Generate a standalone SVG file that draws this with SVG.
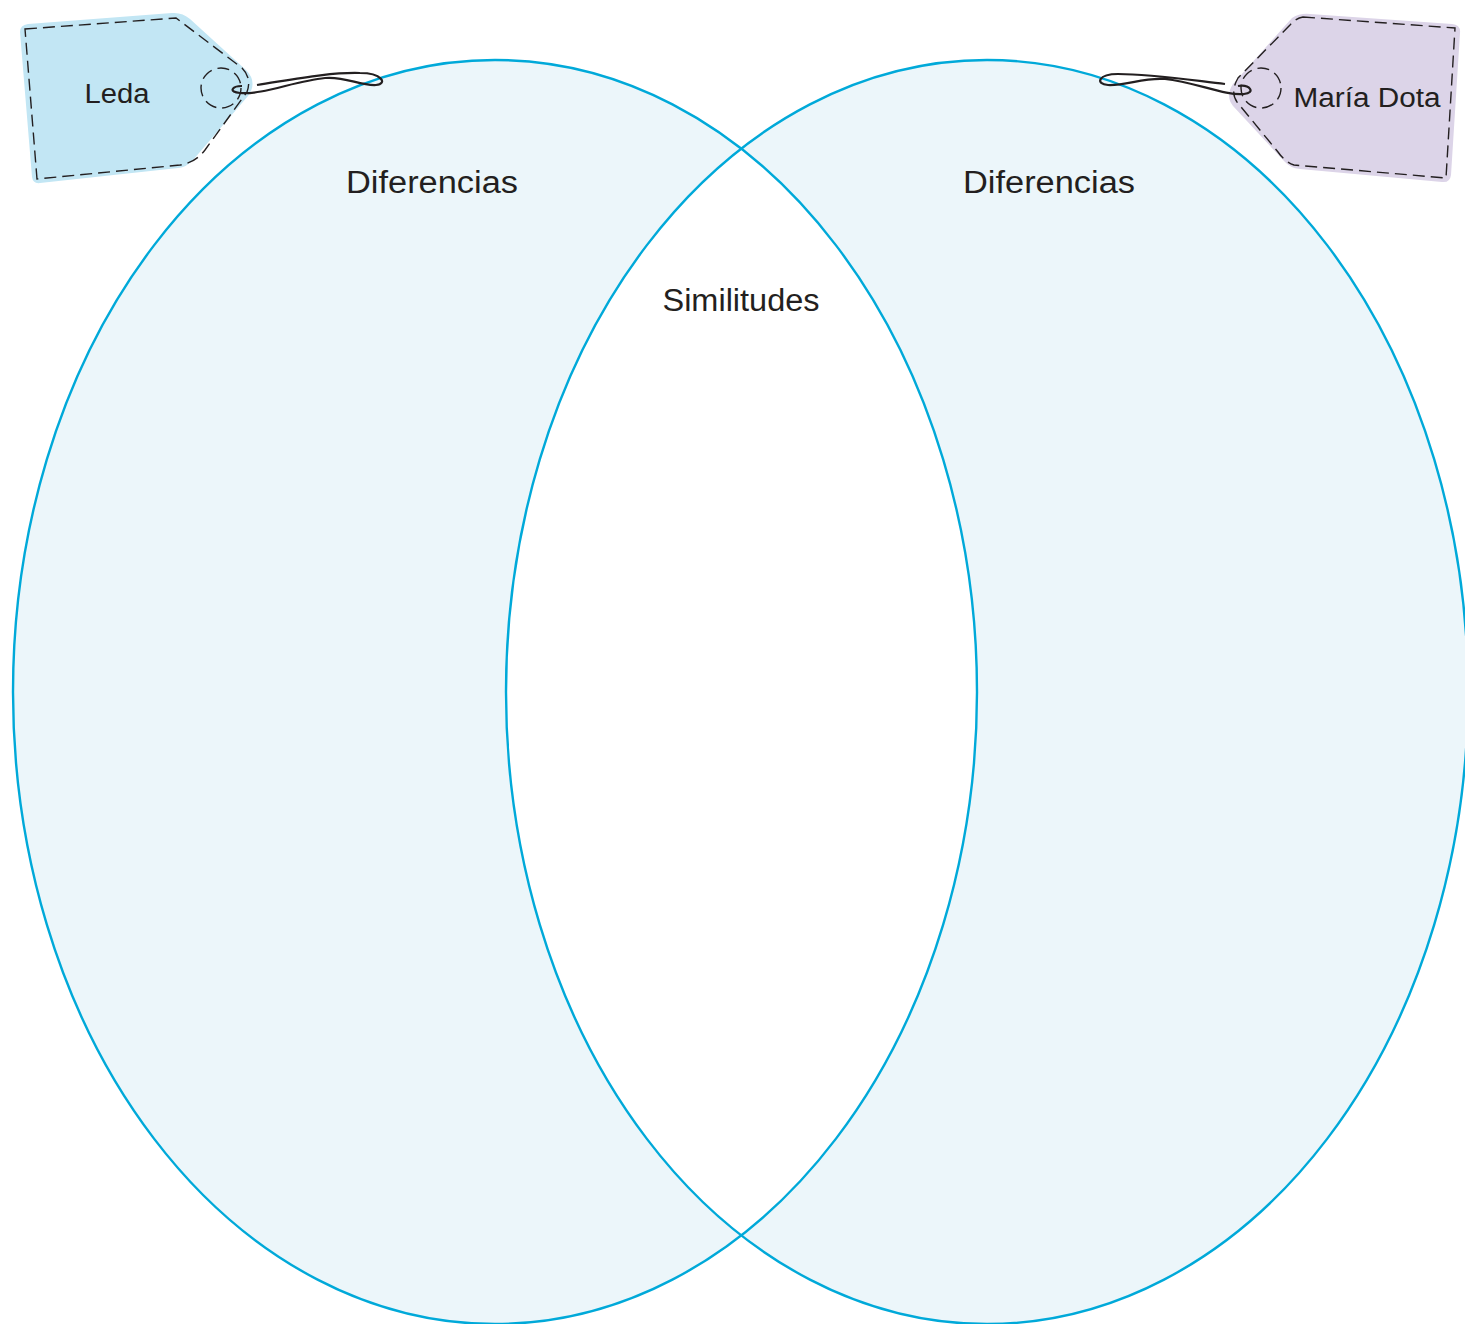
<svg xmlns="http://www.w3.org/2000/svg" width="1465" height="1324" viewBox="0 0 1465 1324">
<style>
.ell{fill:#ecf6fa;stroke:none}
.ring{fill:none;stroke:#00a9d9;stroke-width:2.4}
.lbl{font-family:"Liberation Sans","DejaVu Sans",sans-serif;font-size:31px;fill:#231f20;text-anchor:middle}
.tlbl{font-family:"Liberation Sans","DejaVu Sans",sans-serif;font-size:27px;fill:#231f20;text-anchor:middle}
.dash{fill:none;stroke:#231f20;stroke-width:1.4;stroke-dasharray:12 6}
.str{fill:none;stroke:#231f20;stroke-width:2.2;stroke-linejoin:round}
</style>
<defs>
<clipPath id="clipL"><ellipse cx="495" cy="692" rx="482" ry="632"/></clipPath>
</defs>
<g id="venn-left">
<ellipse class="ell" cx="495" cy="692" rx="482" ry="632"/>
</g>
<g id="venn-right">
<ellipse class="ell" cx="987" cy="692" rx="481" ry="632"/>
</g>
<g id="overlap">
<ellipse cx="987" cy="692" rx="481" ry="632" fill="#ffffff" clip-path="url(#clipL)"/>
</g>
<g id="rings">
<ellipse class="ring" cx="495" cy="692" rx="482" ry="632"/>
<ellipse class="ring" cx="987" cy="692" rx="481" ry="632"/>
</g>
<g id="labels">
<text class="lbl" x="432" y="193" textLength="172" lengthAdjust="spacingAndGlyphs">Diferencias</text>
<text class="lbl" x="1049" y="193" textLength="172" lengthAdjust="spacingAndGlyphs">Diferencias</text>
<text class="lbl" x="741" y="311" textLength="157" lengthAdjust="spacingAndGlyphs">Similitudes</text>
</g>
<g id="tag-leda">
<path d="M28,24 L172,13 Q182,12 190,19 L246,70 Q258,82 248,96 L193,160 Q187,167 178,168 L40,183 Q33,184 32,177 L20,32 Q20,25 28,24 Z" fill="#c2e6f4"/>
<path class="dash" d="M25,29 L176,18 L242,68 Q252,78 247,92 L205,150 Q195,163 180,165 L37,179 Z"/>
<circle class="dash" cx="221" cy="88" r="20" stroke-dasharray="14 8"/>
<text class="tlbl" x="117" y="103" textLength="65" lengthAdjust="spacingAndGlyphs">Leda</text>
</g>
<g id="tag-maria">
<path d="M1292,18 Q1300,13 1310,14 L1452,24 Q1461,25 1460,33 L1451,175 Q1450,183 1442,182 L1300,169 Q1290,168 1284,161 L1233,106 Q1225,96 1233,84 Z" fill="#dcd4e8"/>
<path class="dash" d="M1303,17 L1455,28 L1446,178 L1294,165 Q1285,162 1278,152 L1237,102 Q1230,92 1238,78 L1290,25 Q1296,18 1303,17 Z"/>
<circle class="dash" cx="1261" cy="88" r="20" stroke-dasharray="14 8"/>
<text class="tlbl" x="1367" y="107" textLength="147" lengthAdjust="spacingAndGlyphs">María Dota</text>
</g>
<g id="connectors">
<path class="str" d="M257,85 C 290,80 330,72 360,73 C 382,73 388,84 376,85 C 360,86 345,76 325,78 C 295,81 262,95 240,93 C 228,92 232,86 242,86"/>
<path class="str" d="M1225,84 C 1190,80 1150,74 1118,74 C 1098,74 1095,84 1108,85 C 1125,86 1145,77 1165,79 C 1195,82 1225,96 1244,94 C 1256,93 1250,84 1238,86"/>
</g>
</svg>
